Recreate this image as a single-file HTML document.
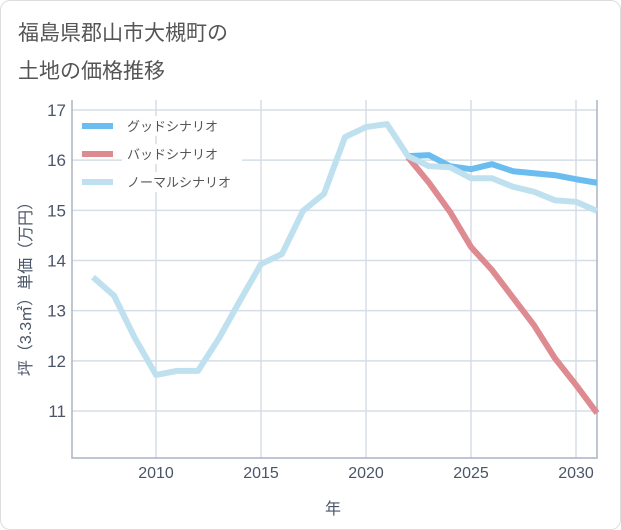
<!DOCTYPE html>
<html><head><meta charset="utf-8"><style>
body{margin:0;background:#fff;font-family:"Liberation Sans","Noto Sans CJK JP",sans-serif;}
#wrap{position:relative;width:619px;height:528px;border:1px solid #ddd;border-radius:10px;overflow:hidden;background:#fff;}
#title{position:absolute;left:17px;top:14px;font-size:21px;line-height:38px;color:#555;}
</style></head><body>
<div id="wrap">
<div id="title">福島県郡山市大槻町の<br>土地の価格推移</div>
<svg id="chart" width="621" height="530" style="position:absolute;left:-1px;top:-1px"></svg>
</div>
<script>
const years=[2007,2008,2009,2010,2011,2012,2013,2014,2015,2016,2017,2018,2019,2020,2021,2022,2023,2024,2025,2026,2027,2028,2029,2030,2031];
const normalValues=[13.67,13.3,12.45,11.72,11.8,11.8,12.45,13.2,13.93,14.13,14.99,15.33,16.46,16.66,16.72,16.08,15.88,15.86,15.64,15.64,15.47,15.37,15.2,15.17,14.99];
const goodYears=[2022,2023,2024,2025,2026,2027,2028,2029,2030,2031];
const goodValues=[16.08,16.1,15.88,15.82,15.92,15.78,15.74,15.7,15.62,15.55];
const badValues=[16.06,15.55,14.97,14.27,13.81,13.26,12.71,12.05,11.52,10.96];
const xTicks=[2010,2015,2020,2025,2030];
const yTicks=[11,12,13,14,15,16,17];
const legendLabels=["グッドシナリオ","バッドシナリオ","ノーマルシナリオ"];
const colors=["#6bbdf0","#de8a91","#bfe0ee"];
const L=72,R=597,T=100,B=458;
const x=v=>156+(v-2010)*21;
const y=v=>110+(17-v)*50.17;
const svg=document.getElementById('chart');
const NS='http://www.w3.org/2000/svg';
function mk(t,a){const e=document.createElementNS(NS,t);for(const k in a)e.setAttribute(k,a[k]);svg.appendChild(e);return e;}
for(const t of yTicks){const l=mk('line',{x1:L,x2:R,y1:y(t),y2:y(t),stroke:'#d5dde6','stroke-width':1.5});

const tx=mk('text',{x:66,y:y(t)+6,'text-anchor':'end','font-size':17,fill:'#4a5568'});tx.textContent=t;
}
for(const t of xTicks){const l=mk('line',{x1:x(t),x2:x(t),y1:T,y2:B,stroke:'#d5dde6','stroke-width':1.5});

const tx=mk('text',{x:x(t),y:478,'text-anchor':'middle','font-size':16,fill:'#4a5568'});tx.textContent=t;
}
const ax=mk('path',{d:`M${L},${T}V${B}H${R}V${T}`,fill:'none',stroke:'#a8b4c2','stroke-width':1.5});

function line(xs,vs,c,name){const p=mk('polyline',{points:xs.map((v,i)=>x(v)+','+y(vs[i])).join(' '),fill:'none',stroke:c,'stroke-width':6,'stroke-linejoin':'round'});
}
const clip=mk('clipPath',{id:'c'});const cr=document.createElementNS(NS,'rect');cr.setAttribute('x',L);cr.setAttribute('y',T);cr.setAttribute('width',R-L);cr.setAttribute('height',B-T);clip.appendChild(cr);
line(goodYears,goodValues,colors[0],'good-scenario-line');
line(goodYears,badValues,colors[1],'bad-scenario-line');
line(years,normalValues,colors[2],'normal-scenario-line');
legendLabels.forEach((lab,i)=>{const yy=126+i*28;
const bg=mk('rect',{x:122,y:yy-10,width:120,height:20,fill:'#fff'});
const l=mk('line',{x1:82,x2:113,y1:yy,y2:yy,stroke:colors[i],'stroke-width':6});

const t=mk('text',{x:127,y:yy+5,'font-size':13,fill:'#555'});t.textContent=lab;
});
const yt=mk('text',{transform:'translate(31,285) rotate(-90)','text-anchor':'middle','font-size':16,fill:'#4a5568'});yt.textContent='坪（3.3㎡）単価（万円）';

const xt=mk('text',{x:333,y:514,'text-anchor':'middle','font-size':16,fill:'#4a5568'});xt.textContent='年';

</script>
</body></html>
